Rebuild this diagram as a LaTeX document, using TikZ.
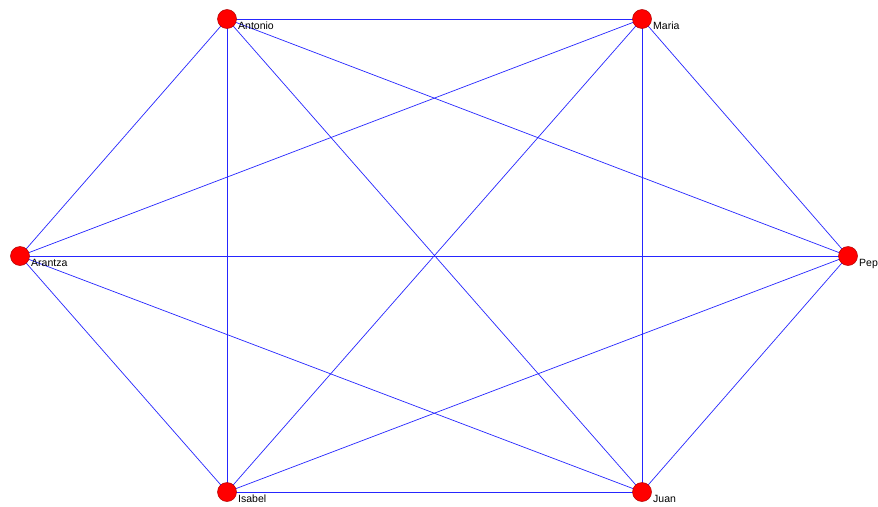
\documentclass[tikz,border=0pt]{standalone}
\usepackage{fontspec}
\setmainfont{Liberation Sans}
\begin{document}
\begin{tikzpicture}[x=1pt,y=-1pt,
  vert/.style={circle,fill=red,draw=red!70!black,line width=0.5pt,minimum size=19pt,inner sep=0pt},
  lab/.style={anchor=north west,inner sep=0pt,font=\fontsize{10.5}{12}\selectfont},
  edge/.style={draw=blue!85!white,line width=0.7pt}]
\clip (0,0) rectangle (878,506);
\fill[white] (0,0) rectangle (878,506);
\coordinate (An) at (227,19);
\coordinate (Ma) at (642,19);
\coordinate (Ar) at (20,256);
\coordinate (Pe) at (848,256);
\coordinate (Is) at (227,492);
\coordinate (Ju) at (642,492);
\foreach \a/\b in {An/Ma,An/Ar,An/Is,An/Ju,An/Pe,Ma/Ar,Ma/Is,Ma/Ju,Ma/Pe,Ar/Pe,Ar/Is,Ar/Ju,Is/Ju,Is/Pe,Ju/Pe}
  \draw[edge] (\a) -- (\b);
\node[vert] (nAn) at (An) {};
\node[vert] (nMa) at (Ma) {};
\node[vert] (nAr) at (Ar) {};
\node[vert] (nPe) at (Pe) {};
\node[vert] (nIs) at (Is) {};
\node[vert] (nJu) at (Ju) {};
\node[lab] (lAn) at ([shift={(11,3)}]An) {Antonio};
\node[lab] (lMa) at ([shift={(11,3)}]Ma) {Maria};
\node[lab] (lAr) at ([shift={(11,3)}]Ar) {Arantza};
\node[lab] (lPe) at ([shift={(11,3)}]Pe) {Pepe};
\node[lab] (lIs) at ([shift={(11,3)}]Is) {Isabel};
\node[lab] (lJu) at ([shift={(11,3)}]Ju) {Juan};
\end{tikzpicture}
\end{document}
